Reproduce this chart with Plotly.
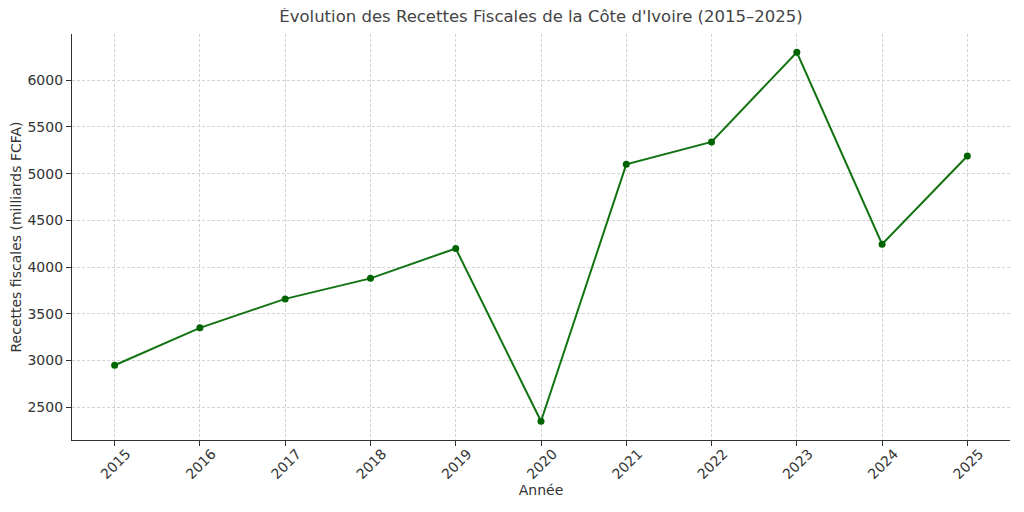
import plotly.graph_objects as go

annees = [2015, 2016, 2017, 2018, 2019, 2020, 2021, 2022, 2023, 2024, 2025]
recettes = [2950, 3350, 3660, 3880, 4200, 2350, 5100, 5340, 6300, 4245, 5190]
tick_annees = [str(a) for a in annees]

fig = go.Figure()
fig.add_trace(go.Scatter(x=annees, y=recettes, mode="lines+markers",
                         line=dict(color="#117311", width=2),
                         marker=dict(color="#006400", size=7)))

grid = dict(showgrid=True, gridcolor="#d3d3d3", griddash="3px,2px", gridwidth=0.8)
fig.update_xaxes(range=[2014.5, 2025.5], tickvals=annees, ticktext=tick_annees,
                 tickangle=-45, ticks="outside", ticklen=5, tickcolor="#333",
                 ticklabelshift=12, ticklabelstandoff=-6,
                 showline=True, linecolor="#333", linewidth=1.2, automargin=False,
                 tickfont=dict(size=14),
                 title=dict(text="Année", standoff=0, font=dict(size=14)),
                 zeroline=False, **grid)
fig.update_yaxes(range=[2150, 6495], tickvals=[2500, 3000, 3500, 4000, 4500, 5000, 5500, 6000],
                 ticks="outside", ticklen=5, tickcolor="#333",
                 showline=True, linecolor="#333", linewidth=1.2, automargin=False,
                 tickfont=dict(size=14),
                 title=dict(text="Recettes fiscales (milliards FCFA)", standoff=8, font=dict(size=14)),
                 zeroline=False, **grid)
# la page ajoute 8 px de marge autour du graphique
fig.update_layout(
    width=1008, height=496,
    margin=dict(l=64, r=6, t=26, b=64),
    plot_bgcolor="white", paper_bgcolor="white",
    showlegend=False,
    font=dict(family="DejaVu Sans", size=14, color="#333"),
    title=dict(text="Évolution des Recettes Fiscales de la Côte d'Ivoire (2015–2025)",
               xref="paper", x=0.5, xanchor="center", y=0.995, yanchor="top",
               font=dict(size=16.5, color="#444")),
)
fig.write_html("out.html")
